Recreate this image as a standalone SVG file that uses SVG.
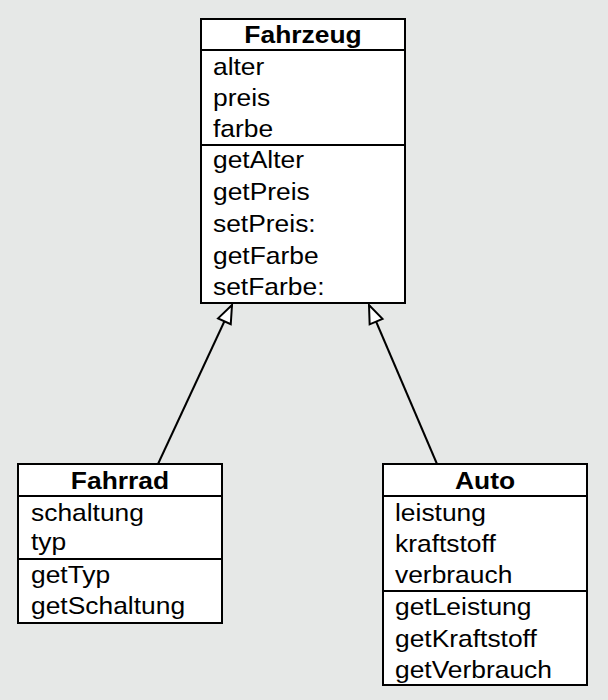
<svg xmlns="http://www.w3.org/2000/svg" width="608" height="700" viewBox="0 0 608 700">
<defs>
<style>
.box{fill:#fff;stroke:#000;stroke-width:2}
.sep{stroke:#000;stroke-width:2}
.t{font-family:"Liberation Sans",Arial,sans-serif;font-size:24px;fill:#000}
.h{font-family:"Liberation Sans",Arial,sans-serif;font-size:24px;font-weight:bold;fill:#000;text-anchor:middle}
.conn{stroke:#000;stroke-width:2;fill:none}
</style>
<marker id="inh" markerUnits="userSpaceOnUse" viewBox="-20 -9 22 18" refX="0" refY="0" markerWidth="22" markerHeight="18" orient="auto">
<path d="M0,0 L-18,-7 L-18,7 Z" fill="#fff" stroke="#000" stroke-width="2" stroke-linejoin="miter"/>
</marker>
</defs>
<rect width="608" height="700" fill="#e6e8e7"/>
<g id="connectors">
<line class="conn" x1="158" y1="464" x2="232" y2="305" marker-end="url(#inh)"/>
<line class="conn" x1="437" y1="464" x2="369" y2="305" marker-end="url(#inh)"/>
</g>
<g id="Fahrzeug">
<rect class="box" x="201" y="19" width="204" height="284"/>
<line class="sep" x1="201" y1="50" x2="405" y2="50"/>
<line class="sep" x1="201" y1="145" x2="405" y2="145"/>
<text class="h" transform="translate(303,43) scale(1.1,1)">Fahrzeug</text>
<text class="t" transform="translate(213,75) scale(1.1,1)">alter</text>
<text class="t" transform="translate(213,106) scale(1.1,1)">preis</text>
<text class="t" transform="translate(213,137) scale(1.1,1)">farbe</text>
<text class="t" transform="translate(213,168) scale(1.1,1)">getAlter</text>
<text class="t" transform="translate(213,200) scale(1.1,1)">getPreis</text>
<text class="t" transform="translate(213,232) scale(1.1,1)">setPreis:</text>
<text class="t" transform="translate(213,264) scale(1.1,1)">getFarbe</text>
<text class="t" transform="translate(213,295) scale(1.1,1)">setFarbe:</text>
</g>
<g id="Fahrrad">
<rect class="box" x="18" y="464" width="204" height="159"/>
<line class="sep" x1="18" y1="496" x2="222" y2="496"/>
<line class="sep" x1="18" y1="559" x2="222" y2="559"/>
<text class="h" transform="translate(120,489) scale(1.1,1)">Fahrrad</text>
<text class="t" transform="translate(31,521) scale(1.1,1)">schaltung</text>
<text class="t" transform="translate(31,550) scale(1.1,1)">typ</text>
<text class="t" transform="translate(31,583) scale(1.1,1)">getTyp</text>
<text class="t" transform="translate(31,614) scale(1.1,1)">getSchaltung</text>
</g>
<g id="Auto">
<rect class="box" x="383" y="464" width="204" height="221"/>
<line class="sep" x1="383" y1="496" x2="587" y2="496"/>
<line class="sep" x1="383" y1="591" x2="587" y2="591"/>
<text class="h" transform="translate(485,489) scale(1.1,1)">Auto</text>
<text class="t" transform="translate(395,521) scale(1.1,1)">leistung</text>
<text class="t" transform="translate(395,552) scale(1.1,1)">kraftstoff</text>
<text class="t" transform="translate(395,583) scale(1.1,1)">verbrauch</text>
<text class="t" transform="translate(395,615) scale(1.1,1)">getLeistung</text>
<text class="t" transform="translate(395,647) scale(1.1,1)">getKraftstoff</text>
<text class="t" transform="translate(395,678) scale(1.1,1)">getVerbrauch</text>
</g>
</svg>
